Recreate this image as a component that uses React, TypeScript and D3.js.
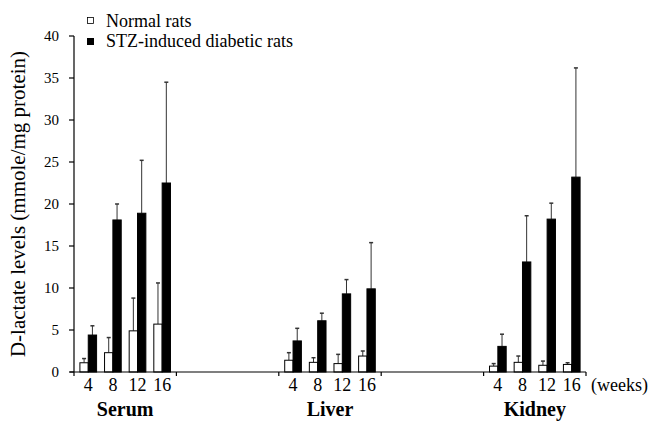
import * as d3 from "d3";

const tissues = ["Serum", "Liver", "Kidney"];
const slots = ["Serum", "gap1", "Liver", "gap2", "Kidney"];
const weeks = ["4", "8", "12", "16"];
const yTicks = [0, 5, 10, 15, 20, 25, 30, 35, 40];

// mean values per tissue, by week
const normalMean = [
  [1.1, 2.3, 4.9, 5.7],
  [1.4, 1.15, 1.0, 1.9],
  [0.7, 1.15, 0.8, 0.9],
];
const normalErr = [
  [0.5, 1.8, 3.9, 4.9],
  [0.9, 0.55, 1.1, 0.6],
  [0.3, 0.75, 0.5, 0.2],
];
const diabeticMean = [
  [4.4, 18.1, 18.9, 22.5],
  [3.7, 6.1, 9.3, 9.9],
  [3.05, 13.1, 18.2, 23.2],
];
const diabeticErr = [
  [1.1, 1.9, 6.3, 12.0],
  [1.5, 0.9, 1.7, 5.5],
  [1.45, 5.5, 1.9, 13.0],
];

const W = 656;
const H = 421;
const font = "Times New Roman, Times, Liberation Serif, DejaVu Serif, serif";

export default function App() {
  const y = d3.scaleLinear().domain([0, 40]).range([372, 36]);
  const x0 = d3.scaleBand().domain(slots).range([74, 586]);
  const x1 = d3
    .scaleBand()
    .domain(weeks)
    .range([0, x0.bandwidth()])
    .paddingInner(0.323)
    .paddingOuter(0.24);
  const bw = x1.bandwidth() / 2;
  const capW = 4;

  const series = [
    { mean: normalMean, err: normalErr, fill: "#fff", off: 0 },
    { mean: diabeticMean, err: diabeticErr, fill: "#000", off: bw },
  ];

  return (
    <svg
      width={W}
      height={H}
      fontFamily={font}
      style={{ position: "absolute", left: 0, top: 0, background: "#fff" }}
    >
      {/* y axis */}
      <line x1={74} x2={74} y1={y(40)} y2={y(0)} stroke="#000" strokeWidth={1.2} />
      {yTicks.map((t) => (
        <g key={t}>
          <line x1={69} x2={74} y1={y(t)} y2={y(t)} stroke="#000" strokeWidth={1.2} />
          <text x={59} y={y(t)} dy="0.35em" textAnchor="end" fontSize={15}>
            {t}
          </text>
        </g>
      ))}
      <text
        transform={`translate(25,${(y(0) + y(40)) / 2}) rotate(-90)`}
        textAnchor="middle"
        fontSize={21}
      >
        D-lactate levels (mmole/mg protein)
      </text>

      {/* bars */}
      {tissues.map((tissue, ti) => {
        const gx = x0(tissue) ?? 0;
        return (
          <g key={tissue} transform={`translate(${gx},0)`}>
            {weeks.map((w, wi) =>
              series.map((s, si) => {
                const bx = (x1(w) ?? 0) + s.off;
                const m = s.mean[ti][wi];
                const top = y(m + s.err[ti][wi]);
                const cx = bx + bw / 2;
                return (
                  <g key={`${w}-${si}`}>
                    <line x1={cx} x2={cx} y1={y(m)} y2={top} stroke="#333" strokeWidth={1} />
                    <line x1={cx - capW / 2} x2={cx + capW / 2} y1={top} y2={top} stroke="#333" strokeWidth={1.5} />
                    <rect
                      x={bx}
                      y={y(m)}
                      width={bw}
                      height={y(0) - y(m)}
                      fill={s.fill}
                      stroke="#000"
                      strokeWidth={1}
                    />
                  </g>
                );
              })
            )}
            {weeks.map((w) => (
              <text
                key={w}
                x={(x1(w) ?? 0) + x1.bandwidth() / 2}
                y={391}
                textAnchor="middle"
                fontSize={18}
              >
                {w}
              </text>
            ))}
            <text
              x={x0.bandwidth() / 2}
              y={416}
              textAnchor="middle"
              fontSize={20}
              fontWeight="bold"
            >
              {tissue}
            </text>
          </g>
        );
      })}

      {/* x axis */}
      <line x1={70} x2={586} y1={y(0)} y2={y(0)} stroke="#000" strokeWidth={1.2} />
      {slots.concat("end").map((s, i) => {
        const xx = i < slots.length ? x0(s) ?? 0 : 586;
        return <line key={s} x1={xx} x2={xx} y1={y(0)} y2={y(0) + 4} stroke="#000" strokeWidth={1.2} />;
      })}
      <text x={591} y={391} fontSize={18}>
        (weeks)
      </text>

      {/* legend */}
      <rect x={87.5} y={17.5} width={6} height={6} fill="#fff" stroke="#000" strokeWidth={0.8} />
      <text x={106} y={27} fontSize={18}>
        Normal rats
      </text>
      <rect x={87} y={38} width={7} height={7} fill="#000" />
      <text x={106} y={47} fontSize={18}>
        STZ-induced diabetic rats
      </text>
    </svg>
  );
}
